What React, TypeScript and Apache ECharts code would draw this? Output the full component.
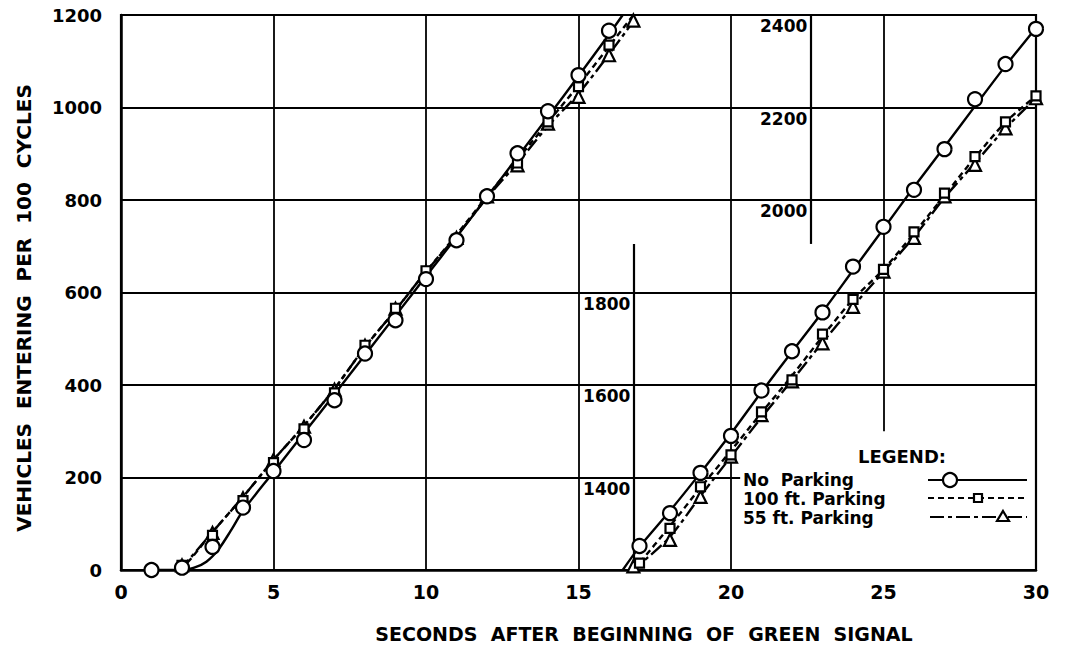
import React, { useEffect, useRef } from "react";
import * as echarts from "echarts";

// ---------- data ----------
const WRAP = 1200; // right-hand part of chart is plotted with 1200 subtracted
const xMin = 0, xMax = 30, xStep = 5;
const yMin = 0, yMax = 1200, yStep = 200;

// marker points (observed)
const secLeft = [1, 2, 3, 4, 5, 6, 7, 8, 9, 10, 11, 12, 13, 14, 15, 16];
const noParkingLeft = [0, 5, 50, 135, 214, 281, 367, 468, 540, 629, 713, 808, 901, 992, 1070, 1166];
const secRight = [17, 18, 19, 20, 21, 22, 23, 24, 25, 26, 27, 28, 29, 30];
const noParkingRight = [1252, 1323, 1410, 1490, 1588, 1673, 1757, 1856, 1942, 2022, 2110, 2218, 2294, 2370];

const sec100Left = [2, 3, 4, 5, 6, 7, 8, 9, 10, 11, 12, 13, 14, 15, 16];
const park100Left = [10, 75, 150, 232, 305, 383, 486, 566, 647, 715, 808, 880, 969, 1045, 1135];
const sec100Right = [17, 18, 19, 20, 21, 22, 23, 24, 25, 26, 27, 28, 29, 30];
const park100Right = [1215, 1290, 1380, 1449, 1542, 1611, 1710, 1785, 1850, 1931, 2015, 2094, 2169, 2225];

const sec55Left = [2, 3, 4, 5, 6, 7, 8, 9, 10, 11, 12, 13, 14, 15, 16, 16.8];
const park55Left = [10, 80, 155, 238, 310, 390, 485, 565, 645, 718, 808, 875, 965, 1023, 1113, 1188];
const sec55Right = [16.8, 18, 19, 20, 21, 22, 23, 24, 25, 26, 27, 28, 29, 30];
const park55Right = [1208, 1265, 1358, 1445, 1535, 1608, 1690, 1769, 1845, 1918, 2008, 2076, 2155, 2220];

// drawn (fitted) curves
const noParkCurveLeftX = [1, 2, 2.4, 2.8, 3.2, 3.6, 4, 5, 6, 7, 8, 9, 10, 11, 12, 13, 14, 15, 16, 16.45];
const noParkCurveLeftY = [0, 0, 5, 18, 45, 85, 128, 212, 296, 380, 465, 550, 635, 720, 806, 893, 980, 1068, 1158, 1200];
const noParkCurveRightX = [16.45, 17, 18, 19, 20, 21, 22, 23, 24, 25, 26, 27, 28, 29, 30];
const noParkCurveRightY = [1200, 1250, 1328, 1410, 1495, 1585, 1672, 1758, 1848, 1938, 2028, 2115, 2203, 2290, 2372];

const p100CurveLeftX = [1.95, 2.3, 3, 4, 5, 6, 7, 8, 9, 10, 11, 12, 13, 14, 15, 16, 16.8];
const p100CurveLeftY = [0, 25, 82, 158, 238, 312, 392, 482, 562, 645, 725, 808, 888, 968, 1048, 1132, 1200];
const p100CurveRightX = [16.8, 17, 18, 19, 20, 21, 22, 23, 24, 25, 26, 27, 28, 29, 30];
const p100CurveRightY = [1200, 1215, 1295, 1378, 1458, 1540, 1620, 1705, 1785, 1850, 1928, 2010, 2092, 2168, 2225];

const p55CurveLeftX = [1.9, 2.3, 3, 4, 5, 6, 7, 8, 9, 10, 11, 12, 13, 14, 15, 16, 16.95];
const p55CurveLeftY = [0, 28, 82, 158, 238, 312, 392, 482, 562, 645, 722, 805, 880, 960, 1030, 1115, 1200];
const p55CurveRightX = [16.7, 17, 18, 19, 20, 21, 22, 23, 24, 25, 26, 27, 28, 29, 30];
const p55CurveRightY = [1200, 1212, 1272, 1360, 1445, 1530, 1610, 1692, 1770, 1845, 1920, 2005, 2080, 2155, 2220];

// second (wrapped) scale labels
const scaleLabels = ["1400", "1600", "1800", "2000", "2200", "2400"];
const scaleLabelX = [16.8, 16.8, 16.8, 22.6, 22.6, 22.6];
const scaleLabelY = [200, 400, 600, 800, 1000, 1200];
// scale divider lines [x, yFrom, yTo]
const dividers = [[16.8, 0, 705], [22.6, 705, 1200]];

// grid lines
const vGrid = [[5, 0, 1200], [10, 0, 1200], [15, 0, 1200], [20, 0, 1200], [25, 300, 1200]];
const hGrid = [[200, 0, 20.3], [400, 0, 30], [600, 0, 30], [800, 0, 30], [1000, 0, 30]];

const legendNames = ["No  Parking", "100 ft. Parking", "55 ft. Parking"];
const xTitle = "SECONDS  AFTER  BEGINNING  OF  GREEN  SIGNAL";
const yTitle = "VEHICLES  ENTERING  PER  100  CYCLES";

// ---------- helpers ----------
const pairs = (xs: number[], ys: number[], off = 0) => xs.map((x, i) => [x, ys[i] - off]);
const FONT = '"DejaVu Sans", Verdana, sans-serif';
const DASH100 = [6, 4];
const DASH55 = [14, 4, 4, 4];

export default function App() {
  const ref = useRef<HTMLDivElement>(null);
  useEffect(() => {
    if (!ref.current) return;
    const chart = echarts.init(ref.current, undefined, { renderer: "svg" });

    const curve = (name: string, data: number[][], dash: any, z = 3) => ({
      type: "line",
      name,
      data,
      showSymbol: false,
      symbol: "none",
      smooth: 0.3,
      z,
      lineStyle: { color: "#000", width: 2.4, type: dash },
      silent: true,
    });
    const markers = (data: number[][], symbol: string, size: number, z: number) => ({
      type: "scatter",
      data,
      symbol,
      symbolSize: size,
      z,
      itemStyle: { color: "#fff", borderColor: "#000", borderWidth: 2.2, opacity: 1 },
      silent: true,
    });

    const gridLines: any[] = [];
    vGrid.forEach(([x, a, b]) => gridLines.push([{ coord: [x, a] }, { coord: [x, b] }]));
    hGrid.forEach(([y, a, b]) => gridLines.push([{ coord: [a, y] }, { coord: [b, y] }]));
    const dividerLines = dividers.map(([x, a, b]) => [{ coord: [x, a] }, { coord: [x, b] }]);

    const lx = 928, lx2 = 1027;
    const option: any = {
      animation: false,
      backgroundColor: "#fff",
      grid: { left: 121, right: 30, top: 15, bottom: 78, show: true, borderColor: "#000", borderWidth: 2.2 },
      xAxis: {
        type: "value",
        min: xMin,
        max: xMax,
        interval: xStep,
        axisLine: { lineStyle: { color: "#000", width: 2.5 } },
        axisTick: { show: false },
        splitLine: { show: false },
        axisLabel: { color: "#000", fontFamily: FONT, fontWeight: "bold", fontSize: 19, margin: 12, formatter: (v: number) => String(v) },
      },
      yAxis: {
        type: "value",
        min: yMin,
        max: yMax,
        interval: yStep,
        axisLine: { show: true, lineStyle: { color: "#000", width: 2.5 } },
        axisTick: { show: false },
        splitLine: { show: false },
        axisLabel: { color: "#000", fontFamily: FONT, fontWeight: "bold", fontSize: 18, margin: 19, formatter: (v: number) => String(v) },
      },
      series: [
        {
          type: "line",
          data: [],
          silent: true,
          z: 1,
          markLine: {
            silent: true,
            symbol: ["none", "none"],
            label: { show: false },
            lineStyle: { color: "#000", width: 1.8, type: "solid", opacity: 1 },
            data: gridLines,
          },
        },
        {
          type: "line",
          data: [],
          silent: true,
          z: 1,
          markLine: {
            silent: true,
            symbol: ["none", "none"],
            label: { show: false },
            lineStyle: { color: "#000", width: 2.2, type: "solid", opacity: 1 },
            data: dividerLines,
          },
        },
        {
          type: "scatter",
          data: scaleLabelX.map((x, i) => [x, scaleLabelY[i]]),
          symbolSize: 0,
          silent: true,
          z: 2,
          itemStyle: { opacity: 1 },
          label: {
            show: true,
            position: "left",
            distance: 3,
            offset: [0, 11],
            formatter: (p: any) => scaleLabels[p.dataIndex],
            color: "#000",
            opacity: 1,
            fontFamily: FONT,
            fontWeight: "bold",
            fontSize: 17,
          },
        },
        curve("np1", pairs(noParkCurveLeftX, noParkCurveLeftY), "solid"),
        curve("np2", pairs(noParkCurveRightX, noParkCurveRightY, WRAP), "solid"),
        curve("p100a", pairs(p100CurveLeftX, p100CurveLeftY), DASH100),
        curve("p100b", pairs(p100CurveRightX, p100CurveRightY, WRAP), DASH100),
        curve("p55a", pairs(p55CurveLeftX, p55CurveLeftY), DASH55),
        curve("p55b", pairs(p55CurveRightX, p55CurveRightY, WRAP), DASH55),
        markers(pairs(sec55Left, park55Left), "triangle", 12, 5),
        markers(pairs(sec55Right, park55Right, WRAP), "triangle", 12, 5),
        markers(pairs(sec100Left, park100Left), "rect", 9, 6),
        markers(pairs(sec100Right, park100Right, WRAP), "rect", 9, 6),
        markers(pairs(secLeft, noParkingLeft), "circle", 14, 7),
        markers(pairs(secRight, noParkingRight, WRAP), "circle", 14, 7),
      ],
      graphic: [
        {
          type: "text",
          x: 644,
          y: 634,
          z: 100,
          style: {
            text: xTitle, fill: "#000", font: `bold 19px ${FONT}`,
            align: "center", verticalAlign: "middle", textAlign: "center", textVerticalAlign: "middle",
          },
        },
        {
          type: "text",
          x: 24,
          y: 308,
          rotation: Math.PI / 2,
          z: 100,
          style: {
            text: yTitle, fill: "#000", font: `bold 20px ${FONT}`,
            align: "center", verticalAlign: "middle", textAlign: "center", textVerticalAlign: "middle",
          },
        },
        {
          type: "text", x: 858, y: 456, z: 100,
          style: { text: "LEGEND:", fill: "#000", font: `bold 18px ${FONT}`, align: "left", verticalAlign: "middle", textAlign: "left", textVerticalAlign: "middle" },
        },
        ...legendNames.map((t, i) => ({
          type: "text", x: 743, y: [480, 499, 518][i], z: 100,
          style: { text: t, fill: "#000", font: `bold 17px ${FONT}`, align: "left", verticalAlign: "middle", textAlign: "left", textVerticalAlign: "middle" },
        })),
        { type: "line", z: 100, shape: { x1: lx, y1: 480, x2: lx2, y2: 480 }, style: { stroke: "#000", lineWidth: 2.2 } },
        { type: "circle", z: 101, shape: { cx: 950, cy: 480, r: 7 }, style: { fill: "#fff", stroke: "#000", lineWidth: 2.2 } },
        { type: "line", z: 100, shape: { x1: lx, y1: 498, x2: lx2, y2: 498 }, style: { stroke: "#000", lineWidth: 2.2, lineDash: DASH100 } },
        { type: "rect", z: 101, shape: { x: 974, y: 494, width: 8, height: 8 }, style: { fill: "#fff", stroke: "#000", lineWidth: 2.2 } },
        { type: "line", z: 100, shape: { x1: 930, y1: 517, x2: lx2, y2: 517 }, style: { stroke: "#000", lineWidth: 2.2, lineDash: DASH55 } },
        { type: "polygon", z: 101, shape: { points: [[1003, 511], [1009, 521], [997, 521]] }, style: { fill: "#fff", stroke: "#000", lineWidth: 2.2 } },
      ],
    };
    chart.setOption(option);
    return () => chart.dispose();
  }, []);
  return <div ref={ref} style={{ position: "fixed", left: 0, top: 0, width: 1066, height: 648, background: "#fff" }} />;
}
